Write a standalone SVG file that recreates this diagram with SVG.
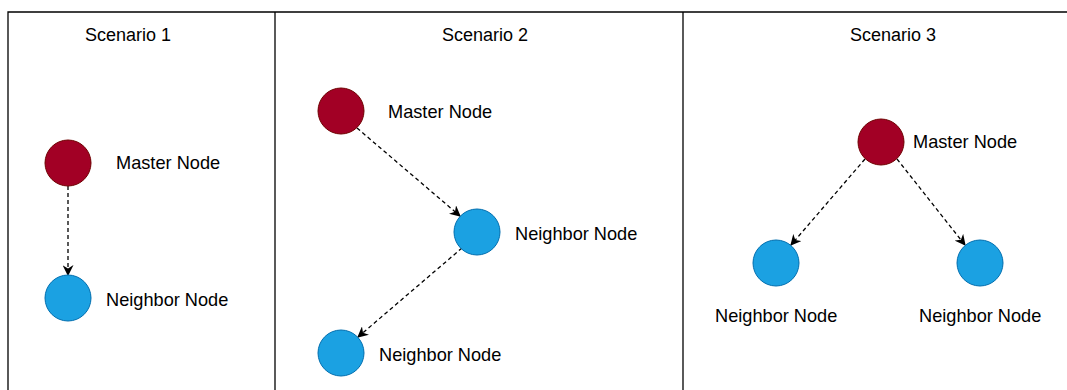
<svg xmlns="http://www.w3.org/2000/svg" width="1067" height="390" viewBox="0 0 1067 390">
<style>
.frame{stroke:#000;stroke-width:1.3;fill:none}
.master{fill:#a20025;stroke:#6f0000;stroke-width:1}
.neighbor{fill:#1ba1e2;stroke:#006eaf;stroke-width:1}
.lbl{font-family:"Liberation Sans",Arial,sans-serif;font-size:18.2px;fill:#000}
.title{font-family:"Liberation Sans",Arial,sans-serif;font-size:18px;fill:#000;text-anchor:middle}
.edge{stroke:#000;stroke-width:1.3;fill:none;stroke-dasharray:4 3;marker-end:url(#arr)}
</style>
<defs>
<marker id="arr" viewBox="0 0 10 10" refX="9" refY="5" markerWidth="11" markerHeight="11" markerUnits="userSpaceOnUse" orient="auto">
<path d="M0,0 L10,5 L0,10 L3,5 z" fill="#000"/>
</marker>
</defs>
<rect width="1067" height="390" fill="#fff"/>
<g id="frames">
<path class="frame" d="M8,390 V12 H1067"/>
<path class="frame" d="M275,12 V390"/>
<path class="frame" d="M683,12 V390"/>
<text class="title" x="128" y="41">Scenario 1</text>
<text class="title" x="485" y="41">Scenario 2</text>
<text class="title" x="893" y="41">Scenario 3</text>
</g>
<g id="connectors">
<path class="edge" d="M68,186 V275"/>
<path class="edge" d="M357,128 L460,216"/>
<path class="edge" d="M462,248 L358,337"/>
<path class="edge" d="M865,159 L791,245"/>
<path class="edge" d="M897,159 L965,245"/>
</g>
<g id="s1-master"><circle class="master" cx="68" cy="163" r="23"/><text class="lbl" x="116" y="169">Master Node</text></g>
<g id="s1-neighbor"><circle class="neighbor" cx="68" cy="298" r="23"/><text class="lbl" x="106" y="306">Neighbor Node</text></g>
<g id="s2-master"><circle class="master" cx="341" cy="111" r="23"/><text class="lbl" x="388" y="118">Master Node</text></g>
<g id="s2-neighbor1"><circle class="neighbor" cx="477" cy="232" r="23"/><text class="lbl" x="515" y="240">Neighbor Node</text></g>
<g id="s2-neighbor2"><circle class="neighbor" cx="341" cy="353" r="23"/><text class="lbl" x="379" y="361">Neighbor Node</text></g>
<g id="s3-master"><circle class="master" cx="881" cy="142" r="23"/><text class="lbl" x="913" y="148">Master Node</text></g>
<g id="s3-neighbor-left"><circle class="neighbor" cx="776" cy="263" r="23"/><text class="lbl" x="715" y="322">Neighbor Node</text></g>
<g id="s3-neighbor-right"><circle class="neighbor" cx="980" cy="263" r="23"/><text class="lbl" x="919" y="322">Neighbor Node</text></g>
</svg>
